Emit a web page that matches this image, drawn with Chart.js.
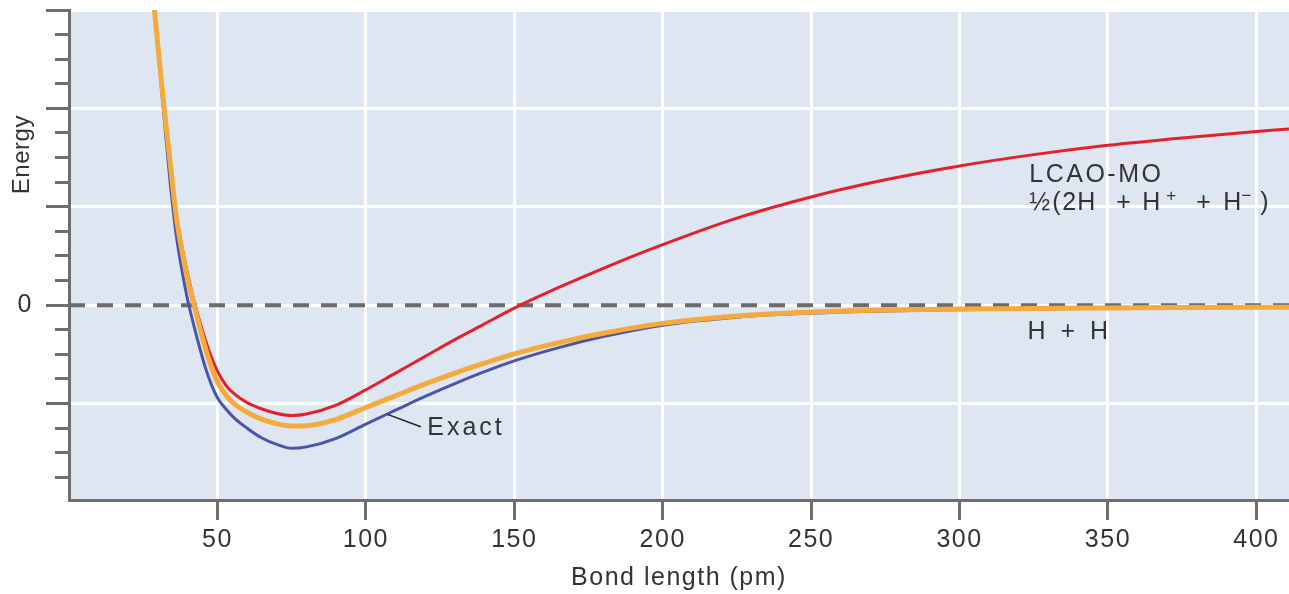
<!DOCTYPE html>
<html>
<head>
<meta charset="utf-8">
<script src="https://cdn.jsdelivr.net/npm/chart.js@4/dist/chart.umd.min.js"></script>
<style>
html,body{margin:0;padding:0;background:#fff;}
#wrap{width:1289px;height:594px;}
</style>
</head>
<body>
<div id="wrap"><canvas id="c" width="1289" height="594"></canvas></div>
<script>
// Bond length (pm) sample points, shared by all three curves
const bondLength = [28, 30, 32, 34, 36, 38, 40, 42, 44, 46, 48, 50, 53, 56, 60, 65, 70, 75, 80, 90, 100, 110, 120, 130, 140, 150, 165, 180, 200, 225, 250, 275, 300, 325, 350, 375, 400, 411];
// Energy (arbitrary units, one unit = one grid step)
const lcaoMO = [3.25, 2.62, 2.02, 1.47, 0.95, 0.60, 0.31, 0.06, -0.16, -0.36, -0.53, -0.67, -0.82, -0.91, -0.99, -1.055, -1.10, -1.12, -1.105, -1.015, -0.86, -0.69, -0.52, -0.35, -0.19, -0.03, 0.18, 0.375, 0.615, 0.885, 1.10, 1.274, 1.415, 1.53, 1.625, 1.70, 1.765, 1.79];
const halfIonic = [3.25, 2.62, 2.02, 1.47, 0.93, 0.56, 0.26, 0.02, -0.22, -0.44, -0.63, -0.78, -0.92, -1.01, -1.09, -1.16, -1.205, -1.228, -1.225, -1.16, -1.04, -0.92, -0.80, -0.69, -0.59, -0.495, -0.38, -0.285, -0.185, -0.11, -0.07, -0.05, -0.04, -0.033, -0.028, -0.024, -0.021, -0.02];
const exact = [3.25, 2.58, 1.92, 1.27, 0.74, 0.36, 0.05, -0.20, -0.43, -0.64, -0.81, -0.94, -1.06, -1.155, -1.25, -1.35, -1.415, -1.455, -1.44, -1.353, -1.208, -1.067, -0.927, -0.797, -0.676, -0.566, -0.431, -0.319, -0.203, -0.122, -0.08, -0.058, -0.046, -0.038, -0.031, -0.026, -0.021, -0.02];
// Asymptote H + H (zero energy)
const zeroLineX = [0, 411];
const zeroLineY = [0, 0];
// Axis ranges and tick labels
const xRange = [0, 411];
const yRange = [-1.98, 3];
const xStep = 50;
const yMinorStep = 0.25;
const yTickLabels = { '0': '0' };
const xTitle = 'Bond length (pm)';
const yTitle = 'Energy';
const noteLcao1 = 'LCAO-MO';
const noteHH = 'H + H';
const noteExact = 'Exact';

const FONT = '"Liberation Sans", Arial, Helvetica, sans-serif';
const AXIS_GREY = '#6e6e6e';
const TEXT = '#333333';

const toPts = (xs, ys) => xs.map((x, i) => ({ x, y: ys[i] }));
const isInt = v => Math.abs(v - Math.round(v)) < 1e-9;

const plotBg = {
  id: 'plotBg',
  beforeDraw(chart) {
    const { ctx, chartArea: a } = chart;
    ctx.save();
    ctx.fillStyle = '#dee6f2';
    ctx.fillRect(a.left, a.top, a.right - a.left, a.bottom - a.top);
    ctx.restore();
    if ('letterSpacing' in ctx) ctx.letterSpacing = '1.5px';
  },
  afterDraw(chart) {
    if ('letterSpacing' in chart.ctx) chart.ctx.letterSpacing = '0px';
  }
};

const notes = {
  id: 'notes',
  afterDraw(chart) {
    const { ctx } = chart;
    const x = chart.scales.x, y = chart.scales.y;
    const ls = v => { if ('letterSpacing' in ctx) ctx.letterSpacing = v; };
    ctx.save();
    ctx.fillStyle = TEXT;
    ctx.textAlign = 'left';
    ctx.textBaseline = 'alphabetic';
    const big = '25px ' + FONT;
    const small = '17px ' + FONT;
    ls('2.5px');
    ctx.font = big;
    // LCAO-MO label
    const lx = x.getPixelForValue(323.5);
    ctx.fillText(noteLcao1, lx, y.getPixelForValue(1.257));
    // ½(2H + H+ + H−)
    const by = y.getPixelForValue(0.97);
    const parts = [
      ['½', 0, 0, big], ['(', 23, 0, big], ['2H', 33, 0, big], ['+', 87, 0, big], ['H', 113, 0, big],
      ['+', 137, -9, small], ['+', 167, 0, big], ['H', 194, 0, big], ['\u2212', 212, -9, small], [')', 231, 0, big]
    ];
    ls('1px');
    parts.forEach(p => { ctx.font = p[3]; ctx.fillText(p[0], lx + p[1], by + p[2]); });
    ctx.font = big;
    // H + H label
    ls('4px');
    ctx.fillText(noteHH, x.getPixelForValue(322.9), y.getPixelForValue(-0.34));
    // Exact label + leader line
    ls('3px');
    ctx.fillText(noteExact, x.getPixelForValue(120.7), y.getPixelForValue(-1.315));
    ctx.strokeStyle = '#222';
    ctx.lineWidth = 1.5;
    ctx.beginPath();
    ctx.moveTo(x.getPixelForValue(107.3), y.getPixelForValue(-1.11));
    ctx.lineTo(x.getPixelForValue(118.5), y.getPixelForValue(-1.235));
    ctx.stroke();
    // Energy axis title
    ls('0.5px');
    ctx.font = '24px ' + FONT;
    ctx.translate(y.left + 28.5, y.getPixelForValue(1.53));
    ctx.rotate(-Math.PI / 2);
    ctx.textAlign = 'center';
    ctx.fillText(yTitle, 0, 0);
    ctx.restore();
  }
};

new Chart(document.getElementById('c'), {
  type: 'line',
  data: {
    datasets: [
      { label: 'H + H', data: toPts(zeroLineX, zeroLineY), borderColor: '#6b6b6b', borderWidth: 4, borderDash: [16, 12], order: 4 },
      { label: 'Exact', data: toPts(bondLength, exact), borderColor: '#4b55a6', borderWidth: 3, cubicInterpolationMode: 'monotone', order: 3 },
      { label: 'LCAO-MO', data: toPts(bondLength, lcaoMO), borderColor: '#e3202b', borderWidth: 3, cubicInterpolationMode: 'monotone', order: 2 },
      { label: '1/2(2H + H+ + H-)', data: toPts(bondLength, halfIonic), borderColor: '#f4aa3c', borderWidth: 5, cubicInterpolationMode: 'monotone', order: 1 }
    ]
  },
  options: {
    responsive: false,
    animation: false,
    devicePixelRatio: 1,
    layout: { padding: { top: 10, left: 0, right: 0, bottom: 0 } },
    elements: { point: { radius: 0 }, line: { fill: false } },
    datasets: { line: { clip: 0 } },
    plugins: { legend: { display: false }, tooltip: { enabled: false } },
    scales: {
      x: {
        type: 'linear',
        min: xRange[0], max: xRange[1],
        afterFit(s) { s.height = 94; s.paddingLeft = 0; s.paddingRight = 0; },
        border: { display: true, color: AXIS_GREY, width: 3 },
        grid: {
          lineWidth: 3,
          tickLength: 20,
          color: c => (c.tick && c.tick.value === 0 ? 'rgba(0,0,0,0)' : '#ffffff'),
          tickColor: c => (c.tick && c.tick.value === 0 ? 'rgba(0,0,0,0)' : AXIS_GREY)
        },
        ticks: {
          stepSize: xStep,
          includeBounds: false,
          autoSkip: false,
          maxRotation: 0,
          maxTicksLimit: 100,
          padding: 5,
          color: TEXT,
          font: { size: 25, family: FONT },
          callback: v => (v === 0 ? '' : String(v))
        },
        title: { display: true, text: xTitle, color: TEXT, font: { size: 25, family: FONT }, padding: { top: 0, bottom: 1 } }
      },
      y: {
        type: 'linear',
        min: yRange[0], max: yRange[1],
        afterFit(s) { s.width = 69; s.paddingTop = 0; s.paddingBottom = 0; },
        border: { display: true, color: AXIS_GREY, width: 3 },
        grid: {
          lineWidth: 3,
          tickLength: 23,
          color: c => (c.tick && isInt(c.tick.value) ? '#ffffff' : 'rgba(0,0,0,0)'),
          tickColor: AXIS_GREY,
          tickBorderDash: c => (c.tick && isInt(c.tick.value) ? [] : [0, 9, 40])
        },
        ticks: {
          stepSize: yMinorStep,
          includeBounds: false,
          autoSkip: false,
          maxTicksLimit: 100,
          padding: 13,
          color: TEXT,
          font: { size: 25, family: FONT },
          callback: v => (Math.abs(v) < 1e-9 ? yTickLabels['0'] : '')
        }
      }
    }
  },
  plugins: [plotBg, notes]
});
</script>
</body>
</html>
